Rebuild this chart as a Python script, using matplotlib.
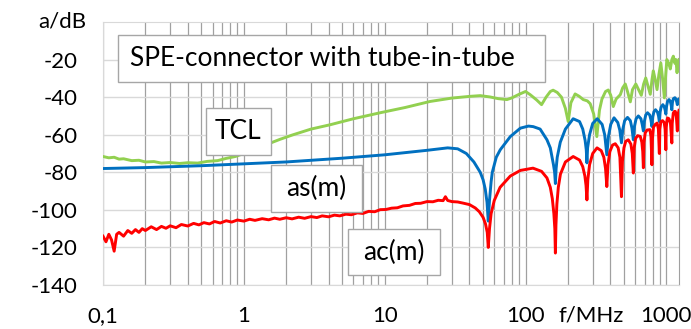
import matplotlib
matplotlib.use("Agg")
import matplotlib.pyplot as plt
from matplotlib.patches import Rectangle
from matplotlib.ticker import FixedLocator, NullFormatter

plt.rcParams['font.family'] = ['Lato', 'DejaVu Sans']

# ---- data (f in MHz, attenuation in dB) ----
f_ac = [0.1, 0.105, 0.11, 0.115, 0.12, 0.125, 0.13, 0.14, 0.15, 0.16, 0.17, 0.18, 0.19, 0.2,
        0.22, 0.24, 0.26, 0.28, 0.3, 0.33, 0.36, 0.4, 0.44, 0.48, 0.52, 0.57, 0.62, 0.68,
        0.75, 0.82, 0.9, 1.0, 1.1, 1.2, 1.35, 1.5, 1.65, 1.8, 2.0, 2.2, 2.45, 2.7, 3.0, 3.3,
        3.6, 4.0, 4.4, 4.8, 5.3, 5.8, 6.4, 7.0, 7.7, 8.5, 9.3, 10.2, 11.2, 12.3, 13.5, 15,
        16.5, 18, 20, 22, 24, 26, 27, 28, 30, 33, 36, 40, 44, 47, 50, 52, 53.5, 54.4, 55.5,
        57, 60, 66, 78, 92, 113, 130, 142, 150, 155, 159, 161.5, 163, 164.5, 167, 171, 177,
        192, 218, 242, 255, 264, 269, 273, 277, 285, 300, 322, 345, 360, 370, 378, 385, 397,
        415, 434, 455, 468, 480, 488, 500, 515, 537, 560, 573, 583, 591, 605, 625, 653, 670,
        680, 687, 694, 708, 730, 764, 778, 790, 797, 810, 835, 860, 878, 892, 899, 915, 940,
        965, 980, 992, 999, 1012, 1021, 1045, 1070, 1094, 1101, 1120, 1140, 1159, 1178, 1197,
        1205, 1230]
a_ac = [-114, -117, -113, -116, -122, -113, -112, -114, -111, -112.5, -110.5, -112, -110, -111,
        -109, -110.5, -108.8, -109.8, -108.5, -109.5, -107.8, -108.6, -107.2, -108, -106.8,
        -107.5, -106.2, -107, -105.8, -106.5, -105.4, -106, -105, -105.6, -104.7, -105.3,
        -104.4, -105, -104.2, -104.8, -103.9, -104.5, -103.6, -104.1, -103.2, -103.7, -102.8,
        -103.2, -102.3, -102.6, -101.6, -101.9, -100.8, -101, -99.9, -99.8, -99.1, -98.9,
        -97.9, -97.6, -96.6, -96.5, -95.6, -95.7, -94.9, -95.1, -93, -95, -95.6, -95.8, -96.4,
        -97.2, -99, -101, -104, -107.5, -112, -120, -110, -102, -95, -88, -82, -79, -77.8,
        -79.5, -83, -88, -94, -102, -110, -123, -108, -97, -88, -81, -74.5, -71.6, -73.5, -77,
        -82, -87, -94.7, -84, -76, -70, -67, -68.5, -72, -78, -87.6, -76, -69, -65.5, -64.8,
        -67, -72, -93, -74, -67, -63.5, -62.7, -65, -70, -80.4, -67, -62, -60.5, -60.9, -64,
        -69, -77.6, -64, -59, -57.5, -57.3, -61, -76, -62, -56, -54.5, -53.8, -57, -70, -57,
        -53, -52.5, -53.5, -57, -68, -56, -52, -51.1, -51.5, -54, -64.4, -54, -48.5, -47.6,
        -47.6, -50.5, -58, -50, -47]

f_as = [0.1, 0.2, 0.5, 1, 2, 5, 10, 20, 28, 33, 38, 43, 47.7, 50, 51.8, 53.3, 54.4, 55.5, 57,
        58.1, 62, 66.2, 78, 92, 105, 113.5, 127, 142, 150, 154, 158, 161, 163, 165, 168, 176.6,
        192, 218, 242, 255, 265, 270, 273, 276, 285, 300, 323, 350, 365, 378, 388, 403, 425,
        452, 467, 480, 491, 506, 530, 555, 570, 583, 594, 610, 633, 660, 674, 687, 698, 714,
        735, 762, 777, 790, 801, 816, 838, 865, 880, 892, 903, 918, 945, 967, 980, 992, 1003,
        1020, 1045, 1067, 1082, 1094, 1105, 1122, 1150, 1170, 1185, 1197, 1210, 1230]
a_as = [-78, -77.5, -76.5, -75.5, -74.5, -72.5, -70.7, -68.3, -67, -67.5, -70, -74.5, -80, -84,
        -89, -96, -106, -95, -85, -80, -72, -68, -61, -56.5, -55.4, -55.7, -57, -62.7, -67,
        -71.6, -76, -80, -86, -78, -72, -64, -57, -51.5, -53, -57, -63, -68, -75, -67, -60,
        -54, -51.5, -54.5, -60, -70.7, -61, -54.5, -51, -53.5, -57.5, -64.3, -57, -52.5,
        -50.8, -52.5, -56.5, -62.7, -55.5, -51.5, -50, -51.5, -54.5, -58, -53, -49.5, -48.3,
        -49.5, -52, -55.6, -50.5, -47.8, -46.7, -48, -50, -53, -48, -45.3, -44, -45.2, -46.8,
        -49, -45, -42.3, -41.3, -42.3, -44.2, -46.7, -42.8, -40.8, -40.3, -41, -42.5, -44,
        -41.5, -41]

f_tcl = [0.1, 0.11, 0.12, 0.13, 0.14, 0.16, 0.18, 0.2, 0.23, 0.26, 0.3, 0.35, 0.4, 0.47, 0.55,
         0.65, 0.75, 0.87, 1.0, 1.2, 1.5, 1.8, 2.2, 3, 4.1, 6, 9.3, 14, 21, 30, 40, 47.7, 56,
         64, 73.8, 80, 90, 100, 108, 120, 130, 140, 150, 157, 168, 180, 192, 201, 210, 225,
         240, 257, 275, 288, 305, 321, 335, 349, 370, 387, 403, 420, 440, 471, 490, 511, 530,
         555, 575, 607, 635, 664, 690, 714, 740, 769, 790, 808, 830, 859, 885, 914, 940, 968,
         990, 1008, 1040, 1067, 1095, 1121, 1150, 1170, 1191, 1210, 1230]
a_tcl = [-71.6, -72.3, -72, -73, -72.8, -73.8, -73.6, -74.5, -74.3, -75.1, -74.8, -75.3, -74.9,
         -75.1, -74.2, -73.8, -72.6, -71.6, -70, -67.8, -64.8, -62.5, -60.2, -57, -54.7, -51.5,
         -48.3, -45.5, -42.3, -40.5, -39.6, -39.2, -39.9, -40.8, -41.3, -40.4, -38.5, -37,
         -38.7, -41.5, -44, -40, -37, -36.3, -37.5, -40, -46, -53, -43, -38.3, -39.5, -41.3,
         -42, -43.5, -49, -61, -47, -41, -37, -36.2, -39, -45, -41, -38.7, -35, -33, -37,
         -42.5, -36, -33, -36, -39, -33, -29.8, -34, -38.5, -31, -26, -30, -36, -28, -21.8,
         -30, -40.4, -28, -20, -22, -25, -20, -18.2, -22, -20, -27, -22, -20]

x_major = [0.1, 1, 10, 100, 1000]
x_labels = ['0,1', '1', '10', '100', '1000']
y_ticks = [-20, -40, -60, -80, -100, -120, -140]

W, H = 691, 329
fig = plt.figure(figsize=(W / 100, H / 100), dpi=100)
ax = fig.add_axes([103 / W, 1 - 285 / H, 576 / W, 263 / H])

ax.plot(f_tcl, a_tcl, color='#92D050', lw=2.1, zorder=3)
ax.plot(f_as, a_as, color='#0070C0', lw=2.1, zorder=4)
ax.plot(f_ac, a_ac, color='#FF0000', lw=2.1, zorder=5)

ax.set_xscale('log')
ax.set_xlim(0.1, 1230)
ax.set_ylim(-140, 0)

minor = [m * d for d in [0.1, 1, 10, 100, 1000] for m in range(2, 10) if m * d < 1230]
ax.xaxis.set_major_locator(FixedLocator(x_major))
ax.xaxis.set_minor_locator(FixedLocator(minor))
ax.xaxis.set_minor_formatter(NullFormatter())
ax.set_xticks(x_major)
ax.set_xticklabels(x_labels)
ax.set_yticks(y_ticks)
ax.set_yticklabels([str(v) for v in y_ticks])

ax.grid(True, which='major', axis='y', color='#d9d9d9', lw=1)
ax.grid(True, which='both', axis='x', color='#a0a0a0', lw=0.9)
ax.set_axisbelow(True)
ax.tick_params(which='both', length=0)
ax.tick_params(axis='y', pad=18, labelsize=16)
ax.tick_params(axis='x', pad=15, labelsize=16)
for s in ax.spines.values():
    s.set_color('#d9d9d9')
ax.spines['right'].set_color('#a0a0a0')

ax.text(-0.028, 0, 'a/dB', transform=ax.get_yaxis_transform(), ha='right', va='center', fontsize=16)
ax.annotate('f/MHz', xy=(293, 0), xycoords=('data', 'axes fraction'), xytext=(0, -15),
            textcoords='offset points', ha='center', va='top', fontsize=16)


def label_box(x0, y0, x1, y1, tx, ty, s):
    fig.add_artist(Rectangle((x0 / W, 1 - y1 / H), (x1 - x0) / W, (y1 - y0) / H,
                             transform=fig.transFigure, fc='white', ec='#a6a6a6', lw=1, zorder=10))
    fig.text(tx / W, 1 - ty / H, s, ha='center', va='center', fontsize=19, zorder=11)


label_box(118, 35, 545, 82, 322, 59, 'SPE-connector with tube-in-tube')
label_box(206, 108, 271, 155, 238, 131, 'TCL')
label_box(271, 165, 362, 212, 316, 188, 'as(m)')
label_box(348, 229, 440, 275, 394, 252, 'ac(m)')

fig.savefig('out.png', dpi=100)
